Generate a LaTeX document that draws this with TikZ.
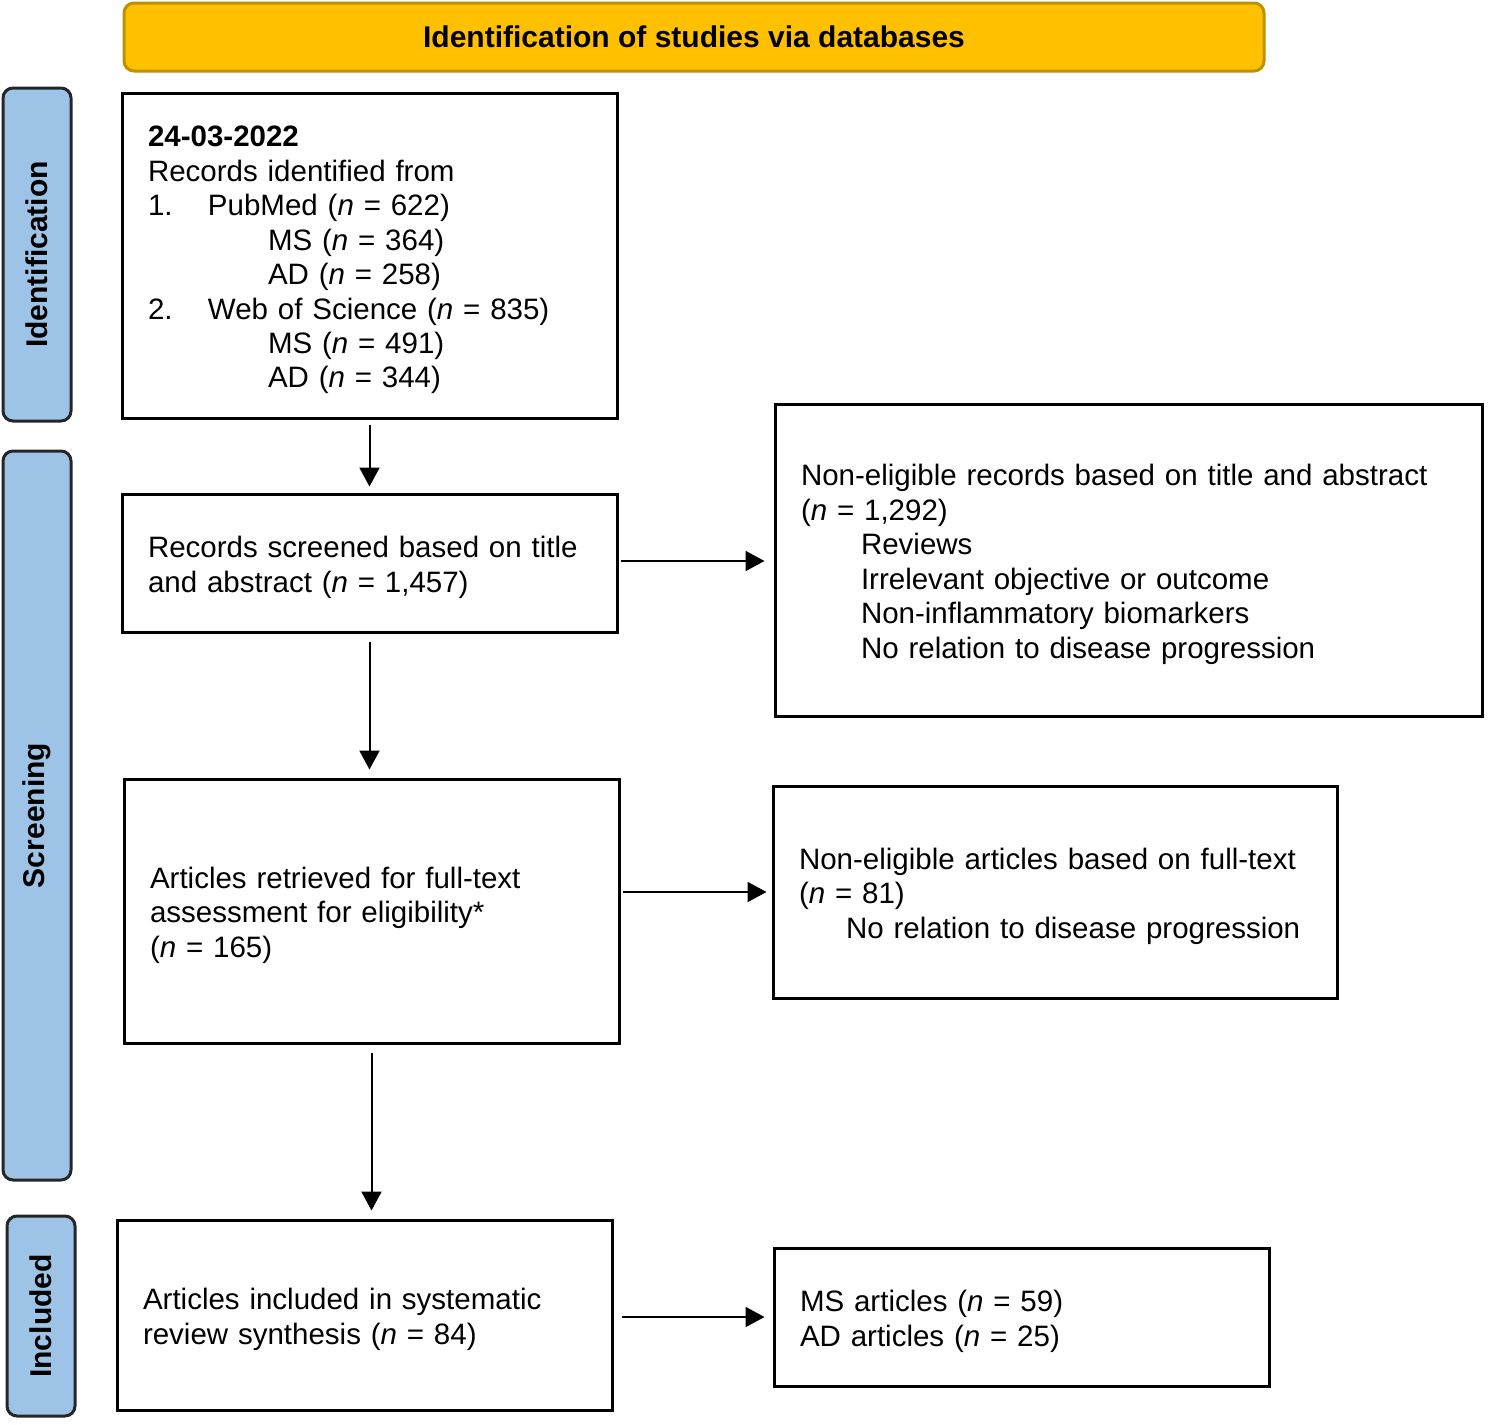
\documentclass[tikz,border=0pt]{standalone}
\usepackage{fontspec}
\setmainfont{Liberation Sans}
\usetikzlibrary{arrows.meta}
\definecolor{gold}{HTML}{FFC000}
\definecolor{golddark}{HTML}{BF9000}
\definecolor{sideblue}{HTML}{9DC3E6}
\newcommand{\topstrut}{\rule{0pt}{15pt}}
\begin{document}
\begin{tikzpicture}[x=0.5pt,y=-0.5pt,
  box/.style={draw, line width=1.5pt, rectangle, align=left, inner xsep=13pt, inner ysep=0pt,
    font=\fontsize{14.75}{17.22}\selectfont, anchor=center},
  side/.style={draw=black!85, fill=sideblue, line width=1.5pt, rounded corners=5pt, rotate=90,
    minimum height=34pt, inner sep=0pt, font=\bfseries\fontsize{15}{18}\selectfont, anchor=center},
  arr/.style={line width=1pt, -{Triangle[length=9.5pt,width=10pt]}}]
\useasboundingbox (0,0) rectangle (1488,1424);

% banner
\node[draw=golddark, fill=gold, line width=1.5pt, rounded corners=5pt, minimum width=570pt,
  minimum height=34pt, inner sep=0pt, font=\bfseries\fontsize{15}{18}\selectfont] (banner) at (694,37)
  {Identification of studies via databases};

% side labels
\node[side, minimum width=166.5pt] (sid) at (37,254.5) {Identification};
\node[side, minimum width=364.5pt] (ssc) at (37,815.5) {Screening};
\node[side, minimum width=100pt] (sin) at (41,1316) {Included};

% left boxes
\node[box, minimum height=162.5pt, text width=221.5pt] (b1) at (369.5,255.5)
 {\topstrut\textbf{24-03-2022}\\
  Records identified from\\
  \makebox[30pt][l]{1.}PubMed (\textit{n} = 622)\\
  \hspace*{60pt}MS (\textit{n} = 364)\\
  \hspace*{60pt}AD (\textit{n} = 258)\\
  \makebox[30pt][l]{2.}Web of Science (\textit{n} = 835)\\
  \hspace*{60pt}MS (\textit{n} = 491)\\
  \hspace*{60pt}AD (\textit{n} = 344)};

\node[box, minimum height=69pt, text width=221.5pt] (b2) at (369.5,563)
 {\topstrut Records screened based on title\\and abstract (\textit{n} = 1,457)};

\node[box, minimum height=132pt, text width=221.5pt] (b3) at (371.5,911)
 {\topstrut Articles retrieved for full-text\\assessment for eligibility*\\(\textit{n} = 165)};

\node[box, minimum height=95pt, text width=221.5pt] (b4) at (364.5,1315)
 {\topstrut Articles included in systematic\\review synthesis (\textit{n} = 84)};

% right boxes
\node[box, minimum height=156pt, text width=327.5pt] (r1) at (1128.5,560)
 {\topstrut Non-eligible records based on title and abstract\\
  (\textit{n} = 1,292)\\
  \hspace*{30pt}Reviews\\
  \hspace*{30pt}Irrelevant objective or outcome\\
  \hspace*{30pt}Non-inflammatory biomarkers\\
  \hspace*{30pt}No relation to disease progression};

\node[box, minimum height=106pt, text width=256pt] (r2) at (1055,892)
 {\topstrut Non-eligible articles based on full-text\\
  (\textit{n} = 81)\\
  \hspace*{23.5pt}No relation to disease progression};

\node[box, minimum height=69pt, text width=221.5pt] (r3) at (1021.5,1317)
 {\topstrut MS articles (\textit{n} = 59)\\AD articles (\textit{n} = 25)};

% arrows
\draw[arr, shorten <=2.5pt, shorten >=3pt] (b1.south) -- (b1.south |- b2.north);
\draw[arr, shorten <=4pt, shorten >=4pt] (b2.south) -- (b2.south |- b3.north);
\draw[arr, shorten <=4pt, shorten >=4pt] (b3.south) -- (b3.south |- b4.north);
\draw[arr, shorten <=1pt, shorten >=4.5pt] ([yshift=1pt]b2.east) -- ([yshift=1pt]b2.east -| r1.west);
\draw[arr, shorten <=1pt, shorten >=2.5pt] (r2.west -| b3.east) -- (r2.west);
\draw[arr, shorten <=4pt, shorten >=4pt] (r3.west -| b4.east) -- (r3.west);
\end{tikzpicture}
\end{document}
